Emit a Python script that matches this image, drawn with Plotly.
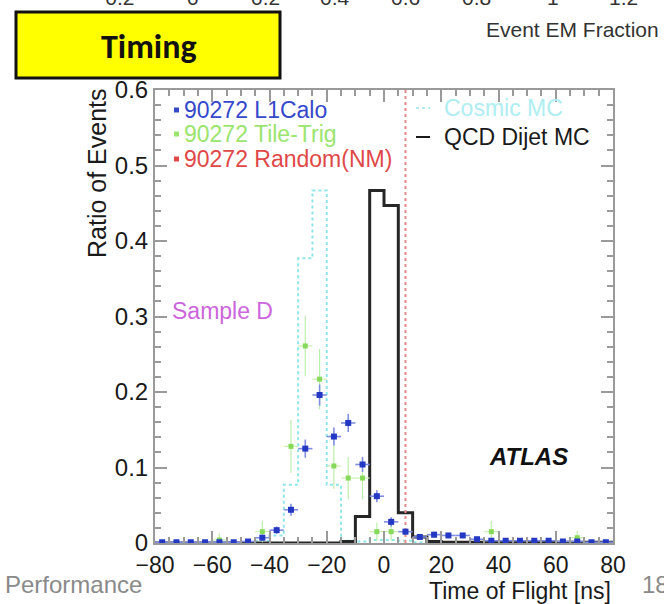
import plotly.graph_objects as go

# ---- data: 5 ns bins of time of flight ----
bin_centers = [-77.5, -72.5, -67.5, -62.5, -57.5, -52.5, -47.5, -42.5,
               -37.5, -32.5, -27.5, -22.5, -17.5, -12.5, -7.5, -2.5,
               2.5, 7.5, 12.5, 17.5, 22.5, 27.5, 32.5, 37.5,
               42.5, 47.5, 52.5, 57.5, 62.5, 67.5, 72.5, 77.5]

l1calo = [0.001, 0.001, 0.001, 0.001, 0.001, 0.001, 0.002, 0.007,
          0.017, 0.044, 0.125, 0.196, 0.141, 0.159, 0.104, 0.062,
          0.028, 0.015, 0.008, 0.011, 0.010, 0.010, 0.005, 0.003,
          0.003, 0.003, 0.003, 0.003, 0.002, 0.002, 0.001, 0.001]
l1calo_err = [0.002, 0.002, 0.002, 0.002, 0.002, 0.002, 0.002, 0.004,
              0.005, 0.008, 0.012, 0.014, 0.012, 0.012, 0.010, 0.008,
              0.006, 0.004, 0.003, 0.004, 0.003, 0.003, 0.002, 0.002,
              0.002, 0.002, 0.002, 0.002, 0.002, 0.002, 0.002, 0.002]

tile_trig = [None, None, None, None, 0.004, None, None, 0.015,
             None, 0.128, 0.261, 0.217, 0.102, 0.086, 0.086, 0.015,
             0.015, None, None, None, None, None, None, 0.015,
             None, None, None, None, None, 0.007, None, None]
tile_trig_err = [0, 0, 0, 0, 0.009, 0, 0, 0.014,
                 0, 0.035, 0.040, 0.040, 0.030, 0.028, 0.028, 0.012,
                 0.012, 0, 0, 0, 0, 0, 0, 0.014,
                 0, 0, 0, 0, 0, 0.009, 0, 0]

cosmic_mc = [0, 0, 0, 0, 0, 0, 0.001, 0.003,
             0.010, 0.077, 0.377, 0.467, 0.077, 0.003, 0.002, 0.004,
             0.004, 0.003, 0.001, 0.001, 0, 0, 0, 0,
             0, 0, 0, 0, 0, 0, 0, 0]

qcd_dijet_mc = [0, 0, 0, 0, 0, 0, 0, 0,
                0, 0, 0, 0, 0, 0.002, 0.035, 0.467,
                0.447, 0.040, 0.008, 0.002, 0.001, 0.001, 0.001, 0.001,
                0.001, 0.001, 0.001, 0.001, 0.001, 0.001, 0.001, 0.001]

random_nm_time = 7.5

x_ticks = [-80, -60, -40, -20, 0, 20, 40, 60, 80]
y_ticks = [0, 0.1, 0.2, 0.3, 0.4, 0.5, 0.6]
upper_ticks = ["\u22120.2", "0", "0.2", "0.4", "0.6", "0.8", "1", "1.2"]

# ---- page geometry (pixels) ----
W, H = 664, 604
L, R, T, B = 155, 613, 90, 543
FONT = "Liberation Sans, Arial, sans-serif"


def px(x):
    return (x - L) / (R - L)


def py(y):
    return (B - y) / (B - T)


edges = [c - 2.5 for c in bin_centers] + [bin_centers[-1] + 2.5]


def step(values):
    xs = [edges[0]] + edges + [edges[-1]]
    ys = [0] + list(values) + [values[-1], 0]
    return xs, ys


fig = go.Figure()

cx, cy = step(cosmic_mc)
fig.add_trace(go.Scatter(x=cx, y=cy, mode="lines", line_shape="hv",
                         line=dict(color="#8fe6ea", width=2, dash="dot"),
                         name="Cosmic MC"))

qx, qy = step(qcd_dijet_mc)
fig.add_trace(go.Scatter(x=qx, y=qy, mode="lines", line_shape="hv",
                         line=dict(color="#262626", width=3),
                         name="QCD Dijet MC"))

fig.add_trace(go.Scatter(x=[random_nm_time, random_nm_time], y=[0, 0.6],
                         mode="lines",
                         line=dict(color="#e88a8a", width=2, dash="dot"),
                         name="90272 Random(NM)"))

fig.add_trace(go.Scatter(x=bin_centers, y=tile_trig, mode="markers",
                         marker=dict(symbol="square", size=5, color="#86d95a"),
                         error_x=dict(type="constant", value=2.5, width=0,
                                      thickness=1.2, color="#c6f0b0"),
                         error_y=dict(type="data", array=tile_trig_err, width=0,
                                      thickness=1.2, color="#bdeeaa"),
                         name="90272 Tile-Trig"))

fig.add_trace(go.Scatter(x=bin_centers, y=l1calo, mode="markers",
                         marker=dict(symbol="square", size=6, color="#2438c4"),
                         error_x=dict(type="constant", value=2.5, width=0,
                                      thickness=1.6, color="#7f8ee0"),
                         error_y=dict(type="data", array=l1calo_err, width=0,
                                      thickness=1.6, color="#7f8ee0"),
                         name="90272 L1Calo"))

ann = []
shapes = []

# legend, left column (marker + text)
legend_left = [("90272 L1Calo", "#3548cc", 110),
               ("90272 Tile-Trig", "#9be46e", 134),
               ("90272 Random(NM)", "#e04848", 159)]
for text, col, yy in legend_left:
    shapes.append(dict(type="rect", xref="paper", yref="paper",
                       x0=px(174), x1=px(179), y0=py(yy + 2.5), y1=py(yy - 2.5),
                       fillcolor=col, line=dict(width=0)))
    ann.append(dict(text=text, x=px(182), y=py(yy), xref="paper", yref="paper",
                    xanchor="left", yanchor="middle", showarrow=False,
                    font=dict(family=FONT, size=23, color=col)))

# legend, right column (line + text)
legend_right = [("Cosmic MC", "#aeeef2", 108, "dot"),
                ("QCD Dijet MC", "#1a1a1a", 137, "solid")]
for text, col, yy, dash in legend_right:
    shapes.append(dict(type="line", xref="paper", yref="paper",
                       x0=px(416), x1=px(430), y0=py(yy), y1=py(yy),
                       line=dict(color=col, width=2, dash=dash)))
    ann.append(dict(text=text, x=px(442), y=py(yy), xref="paper", yref="paper",
                    xanchor="left", yanchor="middle", showarrow=False,
                    font=dict(family=FONT, size=23, color=col)))

ann.append(dict(text="Sample D", x=px(170), y=py(311), xref="paper", yref="paper",
                xanchor="left", yanchor="middle", showarrow=False,
                font=dict(family=FONT, size=23, color="#cc66dd")))
ann.append(dict(text="<b><i>ATLAS</i></b>", x=px(528), y=py(456), xref="paper",
                yref="paper", xanchor="center", yanchor="middle", showarrow=False,
                font=dict(family=FONT, size=24, color="#111111")))

# axis titles
ann.append(dict(text="Time of Flight [ns]", x=px(613), y=py(591), xref="paper",
                yref="paper", xanchor="right", yanchor="middle", showarrow=False,
                font=dict(family=FONT, size=23, color="#1a1a1a")))
ann.append(dict(text="Ratio of Events", x=px(97), y=py(86), xref="paper",
                yref="paper", xanchor="center", yanchor="top", textangle=-90,
                showarrow=False, font=dict(family=FONT, size=25, color="#1a1a1a")))

# slide decorations around the plot
shapes.append(dict(type="rect", xref="paper", yref="paper",
                   x0=px(16), x1=px(280), y0=py(78), y1=py(12),
                   fillcolor="#ffff00", line=dict(color="#111111", width=3)))
ann.append(dict(text="<b>Timing</b>", x=px(149), y=py(47), xref="paper",
                yref="paper", xanchor="center", yanchor="middle", showarrow=False,
                font=dict(family="Carlito, Lato, " + FONT, size=34, color="#111111")))

upper_x = [113, 193, 265, 335, 405, 476, 553, 623]
for lab, xx in zip(upper_ticks, upper_x):
    ann.append(dict(text=lab, x=px(xx), y=py(-3), xref="paper", yref="paper",
                    xanchor="center", yanchor="middle", showarrow=False,
                    font=dict(family=FONT, size=21, color="#333333")))
ann.append(dict(text="Event EM Fraction", x=px(661), y=py(30), xref="paper",
                yref="paper", xanchor="right", yanchor="middle", showarrow=False,
                font=dict(family=FONT, size=21, color="#333333")))
ann.append(dict(text="Performance", x=px(3), y=py(584), xref="paper",
                yref="paper", xanchor="left", yanchor="middle", showarrow=False,
                font=dict(family=FONT, size=24, color="#8a8a8a")))
ann.append(dict(text="18", x=px(640), y=py(584), xref="paper",
                yref="paper", xanchor="left", yanchor="middle", showarrow=False,
                font=dict(family=FONT, size=24, color="#8a8a8a")))

axis_common = dict(showline=True, linecolor="#9a9a9a", linewidth=2,
                   mirror="allticks", ticks="inside", tickcolor="#9a9a9a",
                   tickwidth=1.5, showgrid=False, zeroline=False)

fig.update_layout(
    width=W, height=H,
    margin=dict(l=L, r=W - R, t=T, b=H - B),
    paper_bgcolor="white", plot_bgcolor="white",
    showlegend=False,
    xaxis=dict(range=[-80, 80], tickvals=x_ticks,
               ticktext=[("\u2212" + str(-v)) if v < 0 else str(v) for v in x_ticks],
               ticklen=12, minor=dict(dtick=5, ticks="inside", ticklen=6,
                                      tickcolor="#9a9a9a"),
               tickfont=dict(family=FONT, size=23, color="#1a1a1a"),
               **axis_common),
    yaxis=dict(range=[0, 0.6], tickvals=y_ticks,
               ticktext=["0" if v == 0 else f"{v:.1f}" for v in y_ticks],
               ticklen=12, minor=dict(dtick=0.02, ticks="inside", ticklen=6,
                                      tickcolor="#9a9a9a"),
               tickfont=dict(family=FONT, size=24, color="#1a1a1a"),
               **axis_common),
    annotations=ann,
    shapes=shapes,
)

fig.write_html("out.html")
